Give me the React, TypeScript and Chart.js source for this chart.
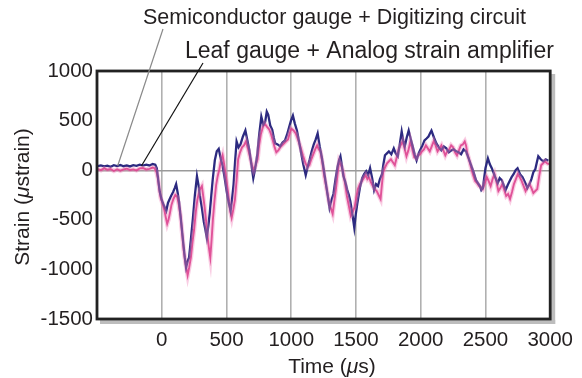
import React, { useEffect, useRef } from "react";
import { Chart, registerables } from "chart.js";

Chart.register(...registerables);

// Semiconductor gauge + Digitizing circuit (blue)
const semiTime = [-495, -470, -445, -420, -395, -370, -345, -320, -295, -270, -245, -220, -195, -170, -145, -120, -95, -70, -50, -38, -25, -15, 0, 12, 25, 35, 48, 58, 72, 88, 100, 111, 122, 134, 150, 165, 178, 188, 200, 211, 225, 241, 256, 272, 284, 295, 310, 325, 337, 348, 360, 371, 383, 394, 410, 425, 440, 455, 471, 486, 501, 516, 532, 544, 555, 566, 578, 593, 608, 627, 646, 660, 677, 692, 707, 722, 738, 752, 769, 784, 799, 811, 822, 838, 853, 865, 876, 895, 914, 933, 952, 968, 983, 998, 1013, 1028, 1044, 1059, 1074, 1093, 1112, 1128, 1143, 1158, 1174, 1189, 1204, 1220, 1235, 1250, 1265, 1280, 1296, 1311, 1326, 1342, 1357, 1369, 1380, 1392, 1403, 1418, 1433, 1445, 1456, 1470, 1487, 1498, 1510, 1530, 1548, 1563, 1579, 1594, 1609, 1625, 1640, 1655, 1670, 1685, 1701, 1712, 1724, 1739, 1754, 1773, 1792, 1807, 1823, 1838, 1853, 1865, 1877, 1892, 1907, 1922, 1938, 1953, 1968, 1984, 1999, 2014, 2029, 2045, 2060, 2071, 2083, 2102, 2121, 2140, 2159, 2178, 2198, 2217, 2236, 2255, 2274, 2293, 2312, 2331, 2350, 2370, 2389, 2408, 2427, 2442, 2457, 2468, 2480, 2500, 2519, 2534, 2549, 2572, 2595, 2610, 2626, 2641, 2656, 2672, 2687, 2702, 2717, 2733, 2748, 2767, 2786, 2805, 2824, 2840, 2855, 2870, 2885, 2897, 2908, 2927, 2946, 2965, 2985];
const semiStrain = [40, 48, 38, 45, 35, 50, 42, 52, 40, 47, 38, 50, 44, 56, 46, 55, 48, 62, 55, 20, -120, -220, -300, -340, -380, -410, -330, -300, -260, -220, -180, -140, -220, -320, -520, -720, -880, -980, -920, -880, -700, -480, -250, -60, -150, -260, -380, -520, -600, -680, -560, -430, -250, -90, 100, 190, 215, 120, 40, -80, -210, -320, -410, -280, -140, 80, 290, 230, 260, 340, 400, 310, 200, 60, -80, 20, 160, 350, 540, 460, 490, 590, 560, 450, 410, 330, 270, 260, 240, 280, 300, 360, 430, 500, 550, 470, 400, 300, 190, 60, -50, 40, 110, 190, 260, 310, 370, 240, 140, 20, -110, -240, -380, -300, -240, -90, 30, 100, 140, 40, -60, -120, -200, -250, -310, -420, -580, -450, -340, -180, -80, -40, -10, -50, 20, -80, -200, -140, -160, -90, -40, 60, 150, 170, 190, 160, 220, 170, 140, 260, 390, 300, 240, 330, 400, 320, 240, 160, 100, 170, 210, 250, 300, 320, 340, 370, 400, 330, 270, 230, 200, 240, 220, 180, 200, 210, 190, 180, 160, 210, 190, 120, 50, -20, -100, -130, -160, -200, -180, 20, 120, 60, 20, -60, -130, -80, -100, -150, -200, -150, -110, -70, -40, 0, 20, -40, -70, -120, -180, -140, -90, -20, 10, 80, 140, 110, 90, 110, 95];

// Leaf gauge + Analog strain amplifier (pink)
const leafTime = [-495, -470, -445, -420, -395, -370, -345, -320, -295, -270, -245, -220, -195, -170, -145, -120, -95, -70, -55, -40, -30, -18, -8, 5, 20, 32, 42, 52, 62, 75, 90, 105, 120, 132, 145, 158, 170, 185, 200, 212, 225, 238, 250, 263, 275, 292, 310, 320, 330, 340, 350, 362, 375, 385, 395, 408, 420, 432, 445, 458, 470, 482, 495, 508, 520, 530, 540, 552, 565, 578, 590, 605, 620, 635, 650, 665, 680, 695, 710, 725, 740, 752, 765, 780, 795, 812, 830, 845, 860, 872, 885, 900, 915, 930, 945, 960, 975, 988, 1000, 1018, 1035, 1052, 1070, 1090, 1110, 1125, 1140, 1155, 1170, 1185, 1200, 1212, 1225, 1240, 1255, 1272, 1290, 1305, 1320, 1332, 1345, 1358, 1370, 1385, 1400, 1415, 1430, 1445, 1460, 1475, 1490, 1502, 1515, 1530, 1545, 1560, 1575, 1588, 1600, 1615, 1630, 1645, 1660, 1675, 1690, 1700, 1710, 1725, 1740, 1755, 1770, 1785, 1800, 1815, 1830, 1845, 1860, 1875, 1890, 1905, 1920, 1935, 1950, 1965, 1980, 1995, 2010, 2025, 2040, 2055, 2070, 2085, 2100, 2115, 2130, 2145, 2160, 2175, 2190, 2205, 2220, 2235, 2250, 2265, 2280, 2295, 2310, 2325, 2340, 2350, 2360, 2375, 2390, 2405, 2420, 2435, 2450, 2465, 2480, 2495, 2510, 2525, 2540, 2555, 2570, 2585, 2600, 2615, 2630, 2645, 2660, 2675, 2690, 2705, 2720, 2735, 2750, 2765, 2780, 2795, 2810, 2825, 2840, 2855, 2870, 2885, 2900, 2915, 2930, 2945, 2960, 2975, 2990];
const leafStrain = [10, 0, 18, 5, 12, -8, 10, -5, 8, 15, 2, 8, -2, 18, 22, 8, 14, 26, 20, -20, -80, -200, -280, -330, -400, -480, -540, -500, -440, -350, -290, -250, -270, -350, -460, -640, -810, -950, -1060, -980, -880, -720, -600, -420, -300, -200, -160, -260, -360, -480, -620, -760, -880, -700, -500, -300, -150, -60, 10, 100, 150, 60, -60, -180, -310, -420, -480, -400, -300, -100, 110, 180, 230, 250, 290, 220, 140, 60, 0, 50, 110, 250, 360, 430, 470, 440, 410, 360, 290, 230, 180, 200, 230, 250, 270, 290, 310, 370, 420, 400, 370, 310, 240, 150, 70, 30, 50, 110, 160, 210, 250, 210, 190, 80, -60, -180, -310, -380, -440, -320, -190, -40, 90, 50, -10, -130, -260, -360, -460, -420, -370, -280, -190, -140, -110, -80, -50, -90, -70, -120, -160, -190, -210, -250, -290, -150, -20, 30, 70, 90, 110, 80, 50, 130, 210, 250, 290, 220, 140, 200, 290, 210, 130, 120, 150, 160, 190, 210, 250, 220, 190, 240, 290, 250, 190, 220, 250, 200, 150, 190, 210, 250, 230, 180, 150, 200, 250, 260, 290, 250, 170, 100, 20, -50, -110, -130, -160, -170, -190, -130, -70, -110, -160, -90, -40, -120, -210, -180, -140, -200, -260, -240, -290, -220, -140, -90, -40, -70, -110, -160, -210, -170, -140, -180, -230, -210, -190, -60, 50, 70, 90, 70, 60];

const xTicks = [0, 500, 1000, 1500, 2000, 2500, 3000];
const yTicks = [-1500, -1000, -500, 0, 500, 1000];

const labelSemi = "Semiconductor gauge + Digitizing circuit";
const labelLeaf = "Leaf gauge + Analog strain amplifier";

const FONT = "'Liberation Sans', Arial, Helvetica, sans-serif";
const TICK_FS = 20.5;
const TITLE_FS = 21;

function drawMixed(ctx: CanvasRenderingContext2D, parts: [string, boolean][], x: number, y: number) {
  let total = 0;
  const widths = parts.map(([t, it]) => {
    ctx.font = `${it ? "italic " : ""}${TITLE_FS}px ${FONT}`;
    const w = ctx.measureText(t).width;
    total += w;
    return w;
  });
  let cx = x - total / 2;
  parts.forEach(([t, it], i) => {
    ctx.font = `${it ? "italic " : ""}${TITLE_FS}px ${FONT}`;
    ctx.textAlign = "left";
    ctx.fillText(t, cx, y);
    cx += widths[i];
  });
}

const decorPlugin = {
  id: "decor",
  beforeDatasetsDraw(chart: any) {
    const { ctx, chartArea } = chart;
    ctx.save();
    ctx.fillStyle = "#bdbdbd";
    ctx.fillRect(chartArea.right + 1, chartArea.top + 3, 4, chartArea.bottom - chartArea.top + 2);
    ctx.fillRect(chartArea.left + 3, chartArea.bottom + 1, chartArea.right - chartArea.left + 2, 4);
    ctx.restore();
  },
  afterDatasetsDraw(chart: any) {
    const { ctx, chartArea, scales } = chart;
    const xs = scales.x;
    const ys = scales.y;
    ctx.save();
    ctx.strokeStyle = "#222";
    ctx.lineWidth = 2.8;
    ctx.strokeRect(chartArea.left, chartArea.top, chartArea.right - chartArea.left, chartArea.bottom - chartArea.top);
    // annotation texts
    ctx.fillStyle = "#231f20";
    ctx.textBaseline = "alphabetic";
    ctx.textAlign = "left";
    ctx.font = `21.5px ${FONT}`;
    ctx.fillText(labelSemi, 143, 24);
    ctx.font = `23px ${FONT}`;
    ctx.fillText(labelLeaf, 185, 58);
    // leader lines
    ctx.lineWidth = 1.2;
    ctx.strokeStyle = "#8a8a8a";
    ctx.beginPath();
    ctx.moveTo(163, 29);
    ctx.lineTo(xs.getPixelForValue(-340), ys.getPixelForValue(45));
    ctx.stroke();
    ctx.strokeStyle = "#111";
    ctx.beginPath();
    ctx.moveTo(203, 63);
    ctx.lineTo(xs.getPixelForValue(-156), ys.getPixelForValue(45));
    ctx.stroke();
    // axis titles
    drawMixed(ctx, [["Time (", false], ["\u03bc", true], ["s)", false]], 332, 373);
    ctx.translate(29, 197);
    ctx.rotate(-Math.PI / 2);
    drawMixed(ctx, [["Strain (", false], ["\u03bc", true], ["strain)", false]], 0, 0);
    ctx.restore();
  },
};

export default function App() {
  const ref = useRef<HTMLCanvasElement | null>(null);
  useEffect(() => {
    if (!ref.current) return;
    const leafPts = leafTime.map((t, i) => ({ x: t, y: leafStrain[i] }));
    const chart = new Chart(ref.current, {
      type: "line",
      data: {
        datasets: [
          {
            label: labelLeaf + " halo",
            data: leafPts,
            borderColor: "rgba(240,130,185,0.4)",
            borderWidth: 4.5,
            pointRadius: 0,
            tension: 0,
          },
          {
            label: labelSemi,
            data: semiTime.map((t, i) => ({ x: t, y: semiStrain[i] })),
            borderColor: "#2c2a80",
            borderWidth: 2.3,
            pointRadius: 0,
            tension: 0,
          },
          {
            label: labelLeaf,
            data: leafPts,
            borderColor: "rgba(208,28,118,0.9)",
            borderWidth: 1.9,
            pointRadius: 0,
            tension: 0,
          },
        ],
      },
      options: {
        animation: false,
        responsive: false,
        devicePixelRatio: 1,
        layout: { padding: { top: 71, right: 28, left: 0, bottom: 0 } },
        plugins: { legend: { display: false }, tooltip: { enabled: false } },
        scales: {
          x: {
            type: "linear",
            min: -500,
            max: 3000,
            afterBuildTicks: (s: any) => {
              s.ticks = [-500, ...xTicks].map((v) => ({ value: v }));
            },
            afterFit: (s: any) => {
              s.height = 59;
            },
            ticks: {
              padding: 9,
              maxRotation: 0,
              autoSkip: false,
              color: "#231f20",
              font: { family: FONT, size: TICK_FS },
              callback: (v: any) => (v === -500 ? "" : String(v)),
            },
            grid: {
              drawTicks: false,
              color: (c: any) => (c.tick && c.tick.value > -500 && c.tick.value < 3000 ? "#b0b0b0" : "rgba(0,0,0,0)"),
              lineWidth: 1.6,
            },
            border: { display: false },
          },
          y: {
            type: "linear",
            min: -1500,
            max: 1000,
            afterBuildTicks: (s: any) => {
              s.ticks = yTicks.map((v) => ({ value: v }));
            },
            afterFit: (s: any) => {
              s.width = 97;
            },
            ticks: {
              padding: 4,
              color: "#231f20",
              font: { family: FONT, size: TICK_FS },
              callback: (v: any) => String(v),
            },
            grid: {
              drawTicks: false,
              color: (c: any) => (c.tick && c.tick.value === 0 ? "#9a9a9a" : "rgba(0,0,0,0)"),
              lineWidth: 1.4,
            },
            border: { display: false },
          },
        },
      },
      plugins: [decorPlugin],
    } as any);
    return () => chart.destroy();
  }, []);
  return (
    <div style={{ position: "fixed", left: 0, top: 0, width: 582, height: 378, background: "#fff" }}>
      <canvas ref={ref} width={582} height={378} style={{ width: 582, height: 378 }} />
    </div>
  );
}
